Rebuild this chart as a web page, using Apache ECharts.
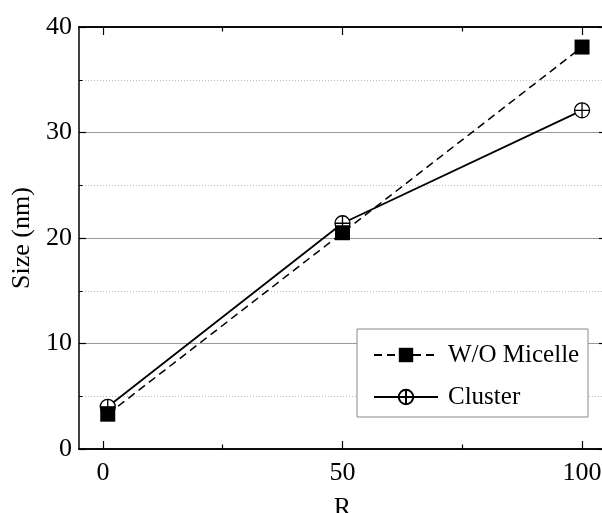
<!DOCTYPE html>
<html>
<head>
<meta charset="utf-8">
<script src="https://cdn.jsdelivr.net/npm/echarts@6/dist/echarts.min.js"></script>
<style>html,body{margin:0;padding:0;background:#fff}#c{width:602px;height:513px}</style>
</head>
<body>
<div id="c"></div>
<script>
const xValues = [1, 50, 100];
const woMicelle = [3.3, 20.5, 38.1];
const cluster = [4.0, 21.4, 32.1];
const xMajorTicks = [0, 50, 100];
const xMinorTicks = [25, 75];
const seriesNames = ['W/O Micelle', 'Cluster'];

const FONT = 'Liberation Serif';
const chart = echarts.init(document.getElementById('c'));
const circlePlus = 'path://M0,10 A10,10 0 1,1 20,10 A10,10 0 1,1 0,10 Z M10,0 L10,20 M0,10 L20,10';

function xAxisDef(pos, ticks, len, labels, extra) {
  return Object.assign({
    type: 'value', position: pos, min: -5, max: 105,
    axisLine: { show: true, onZero: false, lineStyle: { color: '#000', width: 1.5 } },
    axisTick: { show: true, inside: true, length: len, customValues: ticks, lineStyle: { color: '#000', width: 1.2 } },
    axisLabel: { show: labels, customValues: ticks, margin: 11, color: '#000', fontFamily: FONT, fontSize: 26 },
    splitLine: { show: false }
  }, extra || {});
}
function yAxisDef(pos, labels, extra) {
  return Object.assign({
    type: 'value', position: pos, min: 0, max: 40, interval: 10,
    axisLine: { show: true, onZero: false, lineStyle: { color: '#000', width: 1.5 } },
    axisTick: { show: true, inside: true, length: 7, lineStyle: { color: '#000', width: 1.2 } },
    minorTick: { show: true, splitNumber: 2, length: 3.5, lineStyle: { color: '#000', width: 1 } },
    axisLabel: { show: labels, margin: 7, color: '#000', fontFamily: FONT, fontSize: 26 },
    splitLine: { show: labels, lineStyle: { color: '#999', width: 1 } },
    minorSplitLine: { show: labels, lineStyle: { color: '#bbb', width: 1, type: [1, 2] } }
  }, extra || {});
}

chart.setOption({
  animation: false,
  backgroundColor: '#fff',
  grid: { left: 79, top: 27, width: 527, height: 422, containLabel: false, outerBoundsMode: 'none' },
  xAxis: [
    xAxisDef('bottom', xMajorTicks, 8, true, {
      name: 'R', nameLocation: 'middle', nameGap: 46,
      nameTextStyle: { color: '#000', fontFamily: FONT, fontSize: 26 }
    }),
    xAxisDef('bottom', xMinorTicks, 4.5, false),
    xAxisDef('top', xMajorTicks, 8, false),
    xAxisDef('top', xMinorTicks, 4.5, false)
  ],
  yAxis: [
    yAxisDef('left', true, {
      name: 'Size (nm)', nameLocation: 'middle', nameGap: 35, nameRotate: 90,
      nameTextStyle: { color: '#000', fontFamily: FONT, fontSize: 26 }
    }),
    yAxisDef('right', false)
  ],
  graphic: [{
    type: 'rect', z: 1, silent: true,
    shape: { x: 357, y: 329, width: 231, height: 88 },
    style: { fill: '#fff', stroke: '#888', lineWidth: 1 }
  }],
  legend: {
    orient: 'vertical', left: 373, top: 341, z: 5,
    itemWidth: 64, itemHeight: 18, itemGap: 14, padding: 0,
    data: seriesNames,
    textStyle: { color: '#000', fontFamily: FONT, fontSize: 25, lineHeight: 28, padding: [0, 0, 0, 5] }
  },
  series: [
    {
      name: seriesNames[0], type: 'line', z: 3,
      data: xValues.map((x, i) => [x, woMicelle[i]]),
      symbol: 'rect', symbolSize: 15,
      itemStyle: { color: '#000' },
      lineStyle: { color: '#000', width: 1.5, type: [8, 5] }
    },
    {
      name: seriesNames[1], type: 'line', z: 2,
      data: xValues.map((x, i) => [x, cluster[i]]),
      symbol: circlePlus, symbolSize: 15,
      itemStyle: { color: '#fff', borderColor: '#000', borderWidth: 1.3 },
      lineStyle: { color: '#000', width: 1.8 }
    }
  ]
});
</script>
</body>
</html>
